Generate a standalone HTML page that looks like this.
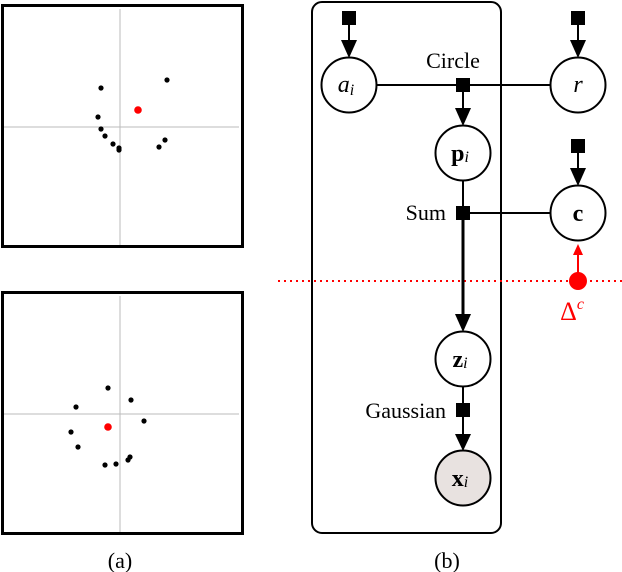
<!DOCTYPE html>
<html><head><meta charset="utf-8"><style>
html,body{margin:0;padding:0;background:#fff;}
svg{display:block;}
text{font-family:"Liberation Serif",serif;}
</style></head><body>
<svg width="622" height="572" viewBox="0 0 622 572" xmlns="http://www.w3.org/2000/svg">
<line x1="120" y1="9" x2="120" y2="245" stroke="#bbb" stroke-width="1"/>
<line x1="4" y1="127" x2="239" y2="127" stroke="#bbb" stroke-width="1"/>
<rect x="2.5" y="5.5" width="240" height="241" fill="none" stroke="#000" stroke-width="3"/>
<g fill="#000">
<circle cx="167" cy="80" r="2.6"/><circle cx="101" cy="88" r="2.6"/><circle cx="98" cy="117" r="2.6"/>
<circle cx="101" cy="129" r="2.6"/><circle cx="105" cy="136" r="2.6"/><circle cx="113" cy="144" r="2.6"/>
<circle cx="119" cy="148" r="2.6"/><circle cx="119" cy="150" r="2.6"/><circle cx="159" cy="147" r="2.6"/>
<circle cx="165" cy="140" r="2.6"/>
</g>
<circle cx="138" cy="110" r="3.8" fill="#f00"/>
<line x1="120" y1="296" x2="120" y2="532" stroke="#bbb" stroke-width="1"/>
<line x1="4" y1="414" x2="239" y2="414" stroke="#bbb" stroke-width="1"/>
<rect x="2.5" y="292.5" width="240" height="241" fill="none" stroke="#000" stroke-width="3"/>
<g fill="#000">
<circle cx="108" cy="388" r="2.6"/><circle cx="131" cy="400" r="2.6"/><circle cx="76" cy="407" r="2.6"/>
<circle cx="144" cy="421" r="2.6"/><circle cx="71" cy="432" r="2.6"/><circle cx="78" cy="447" r="2.6"/>
<circle cx="105" cy="465" r="2.6"/><circle cx="116" cy="464" r="2.6"/><circle cx="128" cy="460" r="2.6"/>
<circle cx="130" cy="457" r="2.6"/>
</g>
<circle cx="108" cy="427" r="3.8" fill="#f00"/>
<text x="120" y="568" font-size="22" text-anchor="middle">(a)</text>

<rect x="312" y="2" width="189" height="531" rx="10" ry="10" fill="none" stroke="#000" stroke-width="2"/>
<line x1="278" y1="281" x2="622" y2="281" stroke="#f00" stroke-width="2" stroke-dasharray="2,4"/>
<g stroke="#000" stroke-width="2" fill="none">
<line x1="377" y1="85" x2="550" y2="85"/>
<line x1="349" y1="25" x2="349" y2="42"/>
<line x1="578" y1="25" x2="578" y2="42"/>
<line x1="578" y1="153" x2="578" y2="170"/>
<line x1="463" y1="92" x2="463" y2="110"/>
<line x1="463" y1="180" x2="463" y2="213"/>
<line x1="463" y1="213" x2="550" y2="213"/>
<line x1="463" y1="213" x2="463" y2="316" stroke-width="3"/>
<line x1="463" y1="386" x2="463" y2="436"/>
</g>
<g fill="#000">
<rect x="342" y="11" width="14" height="14"/>
<rect x="571" y="11" width="14" height="14"/>
<rect x="571" y="139" width="14" height="14"/>
<rect x="456" y="78" width="14" height="14"/>
<rect x="456" y="206" width="14" height="14"/>
<rect x="456" y="403" width="14" height="14"/>
<path d="M341,40 L357,40 L349,58 Z"/>
<path d="M570,40 L586,40 L578,58 Z"/>
<path d="M570,168 L586,168 L578,186 Z"/>
<path d="M455,108 L471,108 L463,126 Z"/>
<path d="M455,314 L471,314 L463,332 Z"/>
<path d="M455,434 L471,434 L463,451 Z"/>
</g>
<g stroke="#000" stroke-width="2">
<circle cx="349" cy="85" r="27.5" fill="#fff"/>
<circle cx="578" cy="85" r="27.5" fill="#fff"/>
<circle cx="463" cy="153" r="27.5" fill="#fff"/>
<circle cx="578" cy="213" r="27.5" fill="#fff"/>
<circle cx="463" cy="359" r="27.5" fill="#fff"/>
<circle cx="463" cy="478" r="27.5" fill="#e8e2e0"/>
</g>
<text x="346" y="92" font-size="24" font-style="italic" text-anchor="middle">a<tspan font-size="16" dy="3">i</tspan></text>
<text x="578" y="92" font-size="24" font-style="italic" text-anchor="middle">r</text>
<text x="460" y="161" font-size="24" font-weight="bold" text-anchor="middle">p<tspan font-size="16" font-style="italic" font-weight="normal" dy="1">i</tspan></text>
<text x="578" y="221" font-size="24" font-weight="bold" text-anchor="middle">c</text>
<text x="460" y="367" font-size="24" font-weight="bold" text-anchor="middle">z<tspan font-size="16" font-style="italic" font-weight="normal" dy="1">i</tspan></text>
<text x="460" y="486" font-size="24" font-weight="bold" text-anchor="middle">x<tspan font-size="16" font-style="italic" font-weight="normal" dy="1">i</tspan></text>
<text x="453" y="68" font-size="22" text-anchor="middle">Circle</text>
<text x="446" y="220" font-size="22" text-anchor="end">Sum</text>
<text x="446" y="418" font-size="22" text-anchor="end">Gaussian</text>
<line x1="578" y1="273" x2="578" y2="253" stroke="#f00" stroke-width="2"/>
<path d="M573,255 L578,244 L583,255 Z" fill="#f00"/>
<circle cx="578" cy="281" r="9" fill="#f00"/>
<text x="572" y="320" font-size="26" fill="#f00" text-anchor="middle">Δ<tspan font-size="16" font-style="italic" dy="-11">c</tspan></text>
<text x="447" y="568" font-size="22" text-anchor="middle">(b)</text>
</svg>
</body></html>
